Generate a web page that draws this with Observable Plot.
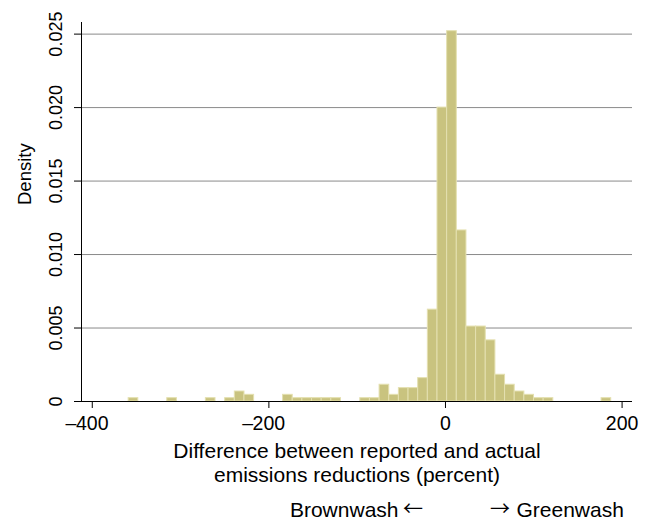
<!DOCTYPE html>
<html>
<head>
<meta charset="utf-8">
<script src="https://cdn.jsdelivr.net/npm/d3@7"></script>
<script src="https://cdn.jsdelivr.net/npm/@observablehq/plot@0.6"></script>
<style>
  html, body { margin: 0; padding: 0; background: #fff; }
  #chart svg { font-family: "Liberation Sans", Arial, sans-serif; }
</style>
</head>
<body>
<div id="chart"></div>
<script>
// Histogram: 50 equal-width bins
const binStart = -358.8;
const binWidth = 10.93;
const densities = [
  0.000227, 0, 0, 0, 0.000227, 0, 0, 0, 0.000227, 0,
  0.000227, 0.00068, 0.000454, 0, 0, 0, 0.000454, 0.000227, 0.000227, 0.000227,
  0.000227, 0.000227, 0, 0, 0.000227, 0.000227, 0.00114, 0.000454, 0.00091, 0.00091,
  0.00159, 0.00625, 0.0200, 0.0252, 0.01164, 0.0051, 0.0051, 0.00416, 0.00182, 0.00114,
  0.00068, 0.000454, 0.000227, 0.000227, 0, 0, 0, 0, 0, 0.000227
];
const xDomain = [-412.2, 211.8];
const yDomain = [0, 0.02579];
const xTicks = [-400, -200, 0, 200];
const yTicks = [0, 0.005, 0.010, 0.015, 0.020, 0.025];
const xTitle = "Difference between reported and actual\nemissions reductions (percent)";
const yTitle = "Density";
const washLeft = "Brownwash";
const washRight = "Greenwash";
const arrowLeft = "\u2190";
const arrowRight = "\u2192";
const minusSign = "\u2013";

const bins = densities
  .map((d, i) => ({x1: binStart + i * binWidth, x2: binStart + (i + 1) * binWidth, density: d}))
  .filter(d => d.density > 0);

const font = "'Liberation Sans', Arial, sans-serif";
const xTickFs = 19.5, yTickFs = 18, titleFs = 21, yTitleFs = 18.5;
const chart = Plot.plot({
  width: 646,
  height: 521,
  marginLeft: 81,
  marginRight: 14,
  marginTop: 22,
  marginBottom: 120,
  style: {fontSize: "18px", fontFamily: font, color: "#000", background: "#fff"},
  x: {domain: xDomain},
  y: {domain: yDomain},
  marks: [
    Plot.gridY(yTicks, {stroke: "#8a8a8a", strokeOpacity: 1, strokeWidth: 1}),
    Plot.rectY(bins, {x1: "x1", x2: "x2", y: "density", fill: "#c9c37f", stroke: "#e4e0b0", strokeWidth: 1}),
    Plot.axisY(yTicks, {
      tickSize: 7, tickRotate: -90, tickPadding: 13, label: null,
      tickFormat: d => d === 0 ? "0" : d3.format(".3f")(d),
      fontSize: yTickFs
    }),
    Plot.ruleX([xDomain[0]], {stroke: "#000", strokeWidth: 1}),
    Plot.axisX(xTicks, {
      tickSize: 7, tickPadding: 8, label: null,
      tickFormat: d => String(Math.abs(d)),
      fontSize: xTickFs
    }),
    // minus signs hang to the left of the centred digits
    Plot.text(xTicks.filter(d => d < 0), {
      x: d => d, frameAnchor: "bottom", lineAnchor: "top", textAnchor: "end",
      dy: 15, dx: -15.8, text: () => minusSign, fontSize: xTickFs, fill: "#000"
    }),
    Plot.ruleY([0], {stroke: "#000", strokeWidth: 1}),
    Plot.text([yTitle], {frameAnchor: "left", dx: -56, dy: -7, rotate: -90, fontSize: yTitleFs, fill: "#000"}),
    Plot.text([xTitle], {frameAnchor: "bottom", lineAnchor: "top", dy: 40, lineHeight: 1.12, fontSize: titleFs, fill: "#000"}),
    Plot.text([washLeft], {frameAnchor: "bottom", lineAnchor: "middle", textAnchor: "end", dx: 41.5, dy: 108.5, fontSize: titleFs, fill: "#000"}),
    Plot.text([arrowLeft], {frameAnchor: "bottom", lineAnchor: "middle", textAnchor: "start", dx: 46, dy: 108.5, fontSize: 20, fontFamily: "'Noto Sans CJK SC', 'DejaVu Sans'", fill: "#000"}),
    Plot.text([arrowRight], {frameAnchor: "bottom", lineAnchor: "middle", textAnchor: "start", dx: 133, dy: 108.5, fontSize: 20, fontFamily: "'Noto Sans CJK SC', 'DejaVu Sans'", fill: "#000"}),
    Plot.text([washRight], {frameAnchor: "bottom", lineAnchor: "middle", textAnchor: "start", dx: 159.5, dy: 108.5, fontSize: titleFs, fill: "#000"})
  ]
});
document.getElementById("chart").appendChild(chart);
</script>
</body>
</html>
